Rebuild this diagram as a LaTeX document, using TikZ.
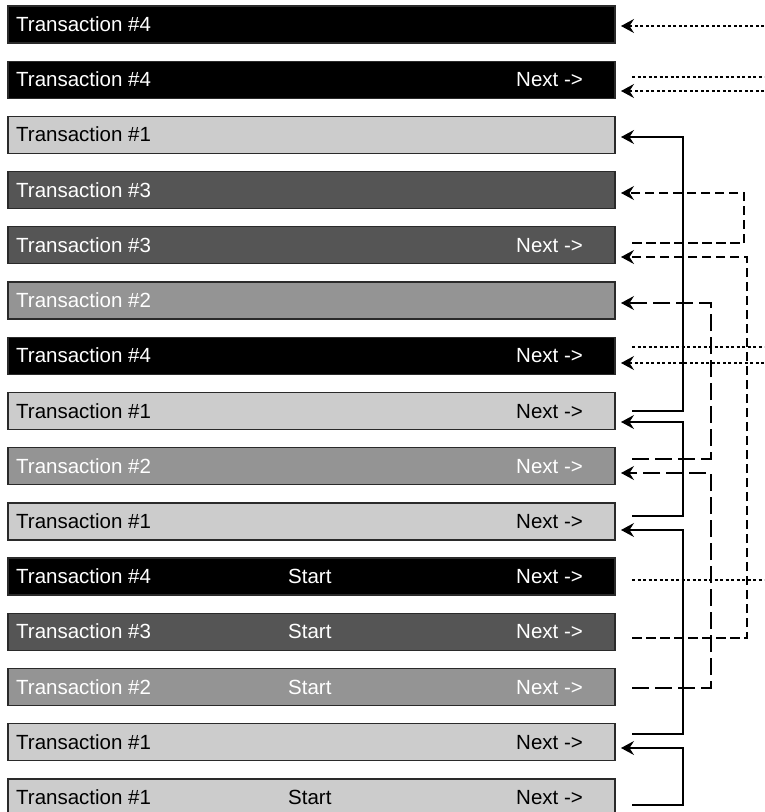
\documentclass[tikz,border=0pt]{standalone}
\usepackage{fontspec}
\setmainfont{Liberation Sans}
\usetikzlibrary{arrows.meta,calc}
\definecolor{dk}{HTML}{555555}
\definecolor{md}{HTML}{949494}
\definecolor{lt}{HTML}{CCCCCC}
\definecolor{bd}{HTML}{2A2A2A}
\tikzset{
  box/.style={rectangle, draw=bd, line width=1.3pt, minimum width=607pt, minimum height=37pt, inner sep=0pt, outer sep=0pt},
  bk/.style={box, fill=black},
  dkb/.style={box, fill=dk},
  mdb/.style={box, fill=md},
  ltb/.style={box, fill=lt},
  lab/.style={inner sep=0pt, anchor=base west, font=\fontsize{20.5}{24}\selectfont},
  tw/.style={lab, text=white},
  tb/.style={lab, text=black},
  conn/.style={line width=1.3pt, black},
  tip/.style={-{Stealth[length=13pt,width=14pt,inset=4.5pt]}},
  dotc/.style={conn, dash pattern=on 3pt off 2.5pt},
  tx3/.style={conn, dash pattern=on 9.5pt off 4.5pt},
  tx2/.style={conn, dash pattern=on 17pt off 6pt},
}
\begin{document}
\begin{tikzpicture}[x=1pt,y=-1pt]
\useasboundingbox (0,0) rectangle (764,812);
\clip (0,0) rectangle (764,812);
% rows
\node[bk]  (r1)  at (311.5,24.5)  {};
\node[bk]  (r2)  at (311.5,79.7)  {};
\node[ltb] (r3)  at (311.5,134.9) {};
\node[dkb] (r4)  at (311.5,190.1) {};
\node[dkb] (r5)  at (311.5,245.3) {};
\node[mdb] (r6)  at (311.5,300.6) {};
\node[bk]  (r7)  at (311.5,355.8) {};
\node[ltb] (r8)  at (311.5,411.0) {};
\node[mdb] (r9)  at (311.5,466.2) {};
\node[ltb] (r10) at (311.5,521.4) {};
\node[bk]  (r11) at (311.5,576.6) {};
\node[dkb] (r12) at (311.5,631.8) {};
\node[mdb] (r13) at (311.5,687.0) {};
\node[ltb] (r14) at (311.5,742.2) {};
\node[ltb] (r15) at (311.5,797.4) {};
% labels
\node[tw] (t1)  at ($(r1.west)+(8,7)$)  {Transaction \#4};
\node[tw] (t2)  at ($(r2.west)+(8,7)$)  {Transaction \#4};
\node[tw] (n2)  at ($(r2.west)+(508,7)$) {Next ->};
\node[tb] (t3)  at ($(r3.west)+(8,7)$)  {Transaction \#1};
\node[tw] (t4)  at ($(r4.west)+(8,7)$)  {Transaction \#3};
\node[tw] (t5)  at ($(r5.west)+(8,7)$)  {Transaction \#3};
\node[tw] (n5)  at ($(r5.west)+(508,7)$) {Next ->};
\node[tw] (t6)  at ($(r6.west)+(8,7)$)  {Transaction \#2};
\node[tw] (t7)  at ($(r7.west)+(8,7)$)  {Transaction \#4};
\node[tw] (n7)  at ($(r7.west)+(508,7)$) {Next ->};
\node[tb] (t8)  at ($(r8.west)+(8,7)$)  {Transaction \#1};
\node[tb] (n8)  at ($(r8.west)+(508,7)$) {Next ->};
\node[tw] (t9)  at ($(r9.west)+(8,7)$)  {Transaction \#2};
\node[tw] (n9)  at ($(r9.west)+(508,7)$) {Next ->};
\node[tb] (t10) at ($(r10.west)+(8,7)$) {Transaction \#1};
\node[tb] (n10) at ($(r10.west)+(508,7)$) {Next ->};
\node[tw] (t11) at ($(r11.west)+(8,7)$) {Transaction \#4};
\node[tw] (s11) at ($(r11.west)+(280,7)$) {Start};
\node[tw] (n11) at ($(r11.west)+(508,7)$) {Next ->};
\node[tw] (t12) at ($(r12.west)+(8,7)$) {Transaction \#3};
\node[tw] (s12) at ($(r12.west)+(280,7)$) {Start};
\node[tw] (n12) at ($(r12.west)+(508,7)$) {Next ->};
\node[tw] (t13) at ($(r13.west)+(8,7)$) {Transaction \#2};
\node[tw] (s13) at ($(r13.west)+(280,7)$) {Start};
\node[tw] (n13) at ($(r13.west)+(508,7)$) {Next ->};
\node[tb] (t14) at ($(r14.west)+(8,7)$) {Transaction \#1};
\node[tb] (n14) at ($(r14.west)+(508,7)$) {Next ->};
\node[tb] (t15) at ($(r15.west)+(8,7)$) {Transaction \#1};
\node[tb] (s15) at ($(r15.west)+(280,7)$) {Start};
\node[tb] (n15) at ($(r15.west)+(508,7)$) {Next ->};
% connector ends
\coordinate (i1)  at (621,26);
\coordinate (o2)  at (632,77);
\coordinate (i2)  at (621,91);
\coordinate (i3)  at (621,137);
\coordinate (i4)  at (621,193);
\coordinate (o5)  at (632,243);
\coordinate (i5)  at (621,257);
\coordinate (i6)  at (621,303);
\coordinate (o7)  at (632,347);
\coordinate (i7)  at (621,363);
\coordinate (o8)  at (632,411);
\coordinate (i8)  at (621,422);
\coordinate (o9)  at (632,459);
\coordinate (i9)  at (621,473);
\coordinate (o10) at (632,516);
\coordinate (i10) at (621,530);
\coordinate (o11) at (632,580);
\coordinate (o12) at (632,638);
\coordinate (o13) at (632,688);
\coordinate (o14) at (632,734);
\coordinate (i14) at (621,748);
\coordinate (o15) at (632,805);
% off-picture ends
\coordinate (e1)  at (764,26);
\coordinate (e2a) at (764,77);
\coordinate (e2b) at (764,91);
\coordinate (e7a) at (764,347);
\coordinate (e7b) at (764,363);
\coordinate (e11) at (764,580);
% transaction #4 (dotted)
\draw[dotc,tip] (e1) -- (i1);
\draw[dotc] (o2) -- (e2a);
\draw[dotc,tip] (e2b) -- (i2);
\draw[dotc] (o7) -- (e7a);
\draw[dotc,tip] (e7b) -- (i7);
\draw[dotc] (o11) -- (e11);
% transaction #3
\draw[tx3,tip] (o5) -- (744,243) |- (i4);
\draw[tx3,tip] (o12) -- (747,638) |- (i5);
% transaction #2
\draw[tx2,tip] (o9) -- (711,459) |- (i6);
\draw[tx2,tip] (o13) -- (711,688) |- (i9);
% transaction #1 (solid)
\draw[conn,tip] (o8) -- (683,411) |- (i3);
\draw[conn,tip] (o10) -- (683,516) |- (i8);
\draw[conn,tip] (o14) -- (683,734) |- (i10);
\draw[conn,tip] (o15) -- (683,805) |- (i14);
\end{tikzpicture}
\end{document}
